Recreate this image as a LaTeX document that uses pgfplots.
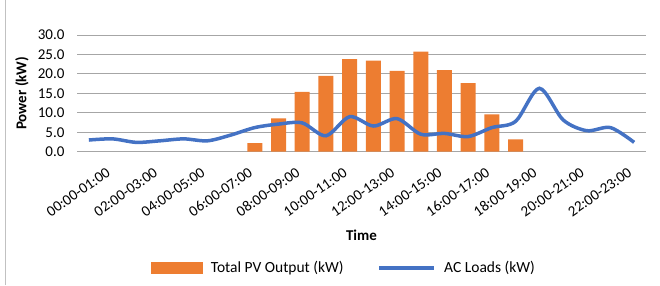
\documentclass[border=0pt]{standalone}
\usepackage{pgfplots}
\pgfplotsset{compat=1.18}
\usepackage{fontspec}
\setmainfont{Carlito}
\definecolor{pvorange}{HTML}{ED7D31}
\definecolor{acblue}{HTML}{4472C4}
\definecolor{gridgray}{HTML}{A6A6A6}
\begin{document}
\begin{tikzpicture}
\useasboundingbox (0,0) rectangle (660pt,285pt);
\draw[color=gridgray!70, line width=1pt] (5.5pt,0) -- (5.5pt,285pt);
\begin{axis}[
  at={(77pt,133.3pt)}, anchor=south west,
  scale only axis, width=569pt, height=116.7pt,
  xmin=-0.5, xmax=23.5, ymin=0, ymax=30,
  clip=false,
  axis line style={draw=none},
  major tick style={draw=none},
  ymajorgrids, grid style={gridgray, line width=1pt},
  ytick={0,5,10,15,20,25,30},
  xtick={0,2,4,6,8,10,12,14,16,18,20,22},
  xticklabels={00:00-01:00,02:00-03:00,04:00-05:00,06:00-07:00,08:00-09:00,10:00-11:00,12:00-13:00,14:00-15:00,16:00-17:00,18:00-19:00,20:00-21:00,22:00-23:00},
  /pgf/number format/assume math mode=true,
  yticklabel style={/pgf/number format/fixed, /pgf/number format/fixed zerofill, /pgf/number format/precision=1},
  yticklabel style={font=\fontsize{15}{18}\selectfont, xshift=-9pt},
  xticklabel style={font=\fontsize{15}{18}\selectfont, rotate=35, anchor=east, inner sep=0pt, xshift=5pt, yshift=-27pt},
  ylabel={Power (kW)},
  ylabel style={font=\bfseries\fontsize{15}{18}\selectfont, at={(axis description cs:-0.0967,0.5)}, anchor=center, rotate=0},
  xlabel={Time},
  xlabel style={font=\bfseries\fontsize{15}{18}\selectfont, at={(axis description cs:0.5,-0.72)}, anchor=center},
  legend columns=2,
  legend style={at={(axis description cs:0.469,-0.997)}, anchor=center, draw=none, font=\fontsize{15.5}{18}\selectfont,
    /tikz/every odd column/.append style={column sep=6pt},
    /tikz/every even column/.append style={column sep=32pt}},
]
\addplot[ybar, bar width=15pt, fill=pvorange, draw=none, area legend,
  legend image code/.code={\fill[pvorange] (0pt,-6pt) rectangle (52pt,6pt);}]
  coordinates {(7,2.2) (8,8.6) (9,15.4) (10,19.5) (11,23.8) (12,23.4) (13,20.8) (14,25.7) (15,21.0) (16,17.6) (17,9.6) (18,3.2)};
\addlegendentry{Total PV Output (kW)}
\addplot[acblue, line width=3.5pt, smooth, mark=none,
  legend image code/.code={\draw[acblue, line width=3.5pt] (0pt,0pt) -- (55pt,0pt);}]
  coordinates {(0,3.0) (1,3.3) (2,2.4) (3,2.8) (4,3.3) (5,2.8) (6,4.3) (7,6.2) (8,7.1) (9,7.4) (10,4.1) (11,9.0) (12,6.6) (13,8.5) (14,4.5) (15,4.7) (16,3.9) (17,6.2) (18,7.8) (19,16.3) (20,8.2) (21,5.4) (22,6.2) (23,2.4)};
\addlegendentry{AC Loads (kW)}
\end{axis}
\end{tikzpicture}
\end{document}
